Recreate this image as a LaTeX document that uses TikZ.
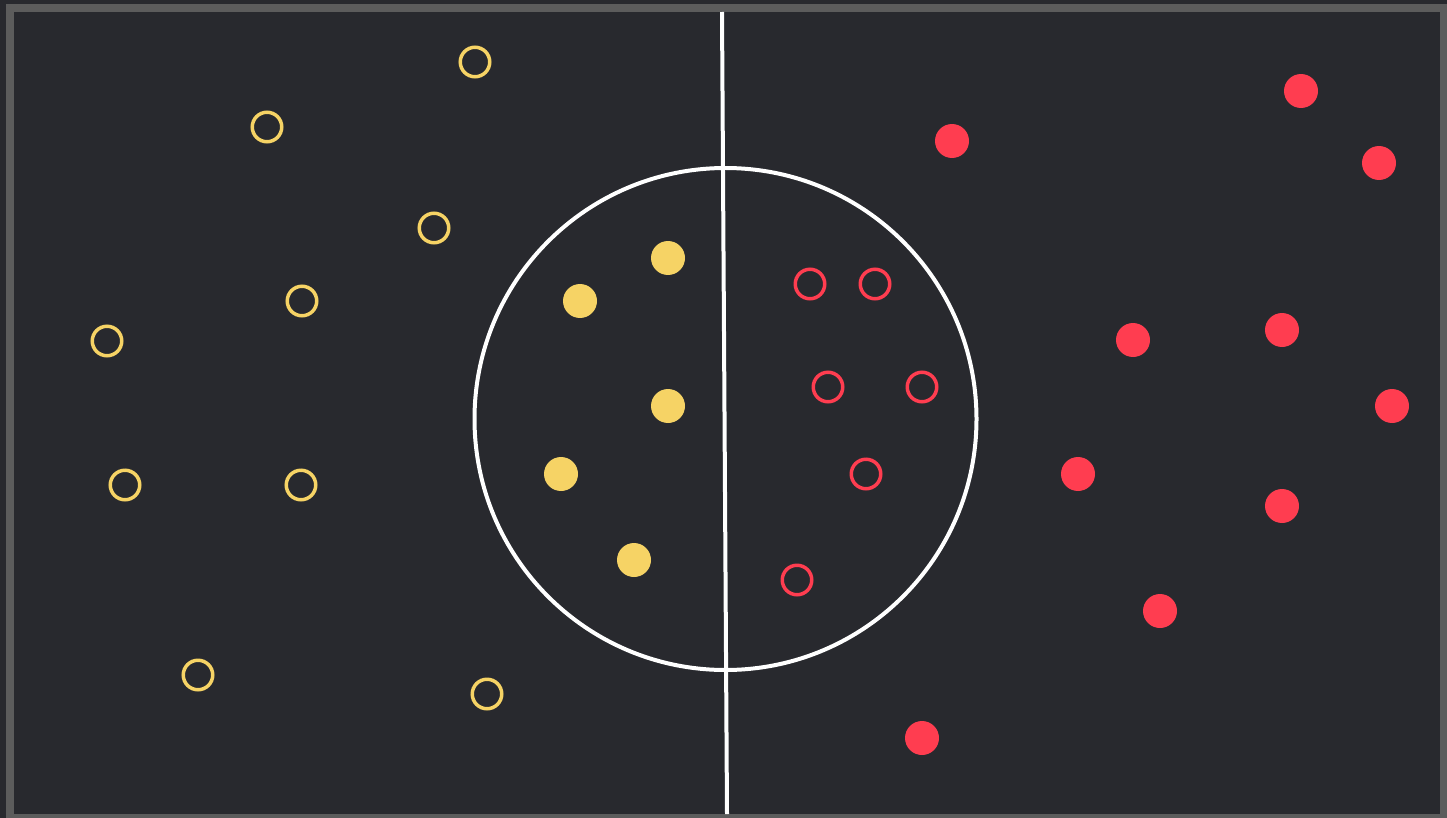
\documentclass[tikz,border=0pt]{standalone}
\usepackage{tikz}
\definecolor{pitchbg}{HTML}{28292E}
\definecolor{framegray}{HTML}{5C5C5C}
\definecolor{teamyellow}{HTML}{F6D365}
\definecolor{teamred}{HTML}{FF3D50}

\begin{document}
\begin{tikzpicture}[
    x=0.02cm, y=-0.02cm,
    every node/.style={inner sep=0pt},
    pitchline/.style={draw=white, line width=0.08cm},
    yring/.style={circle, draw=teamyellow, line width=0.07cm, minimum size=0.59cm},
    ydot/.style={circle, fill=teamyellow, minimum size=0.68cm},
    rring/.style={circle, draw=teamred, line width=0.07cm, minimum size=0.59cm},
    rdot/.style={circle, fill=teamred, minimum size=0.68cm},
]

% === Pitch and frame ===
\fill[pitchbg] (0,0) rectangle (1447,818);
\fill[framegray] (6,4) rectangle (1447,818);
\fill[pitchbg] (14,12) rectangle (1440,814);
\useasboundingbox (0,0) rectangle (1447,818);

\coordinate (linetop) at (722,12);
\coordinate (linebot) at (727,814);
\coordinate (kickoff) at (725.5,419);
\draw[pitchline] (linetop) -- (linebot);
\draw[pitchline] (kickoff) circle (251);

% === Yellow side, open ===
\node[yring] (ya) at (475,62) {};
\node[yring] (yb) at (267,127) {};
\node[yring] (yc) at (434,228) {};
\node[yring] (yd) at (302,301) {};
\node[yring] (ye) at (107,341) {};
\node[yring] (yf) at (125,485) {};
\node[yring] (yg) at (301,485) {};
\node[yring] (yh) at (198,675) {};
\node[yring] (yi) at (487,694) {};

% === Yellow side, filled ===
\node[ydot] (yA) at (668,258) {};
\node[ydot] (yB) at (580,301) {};
\node[ydot] (yC) at (668,406) {};
\node[ydot] (yD) at (561,474) {};
\node[ydot] (yE) at (634,560) {};

% === Red side, open ===
\node[rring] (ra) at (810,284) {};
\node[rring] (rb) at (875,284) {};
\node[rring] (rc) at (828,387) {};
\node[rring] (rd) at (922,387) {};
\node[rring] (re) at (866,474) {};
\node[rring] (rf) at (797,580) {};

% === Red side, filled ===
\node[rdot] (rA) at (1301,91) {};
\node[rdot] (rB) at (952,141) {};
\node[rdot] (rC) at (1379,163) {};
\node[rdot] (rD) at (1133,340) {};
\node[rdot] (rE) at (1282,330) {};
\node[rdot] (rF) at (1392,406) {};
\node[rdot] (rG) at (1078,474) {};
\node[rdot] (rH) at (1282,506) {};
\node[rdot] (rI) at (1160,611) {};
\node[rdot] (rJ) at (922,738) {};

\end{tikzpicture}
\end{document}
